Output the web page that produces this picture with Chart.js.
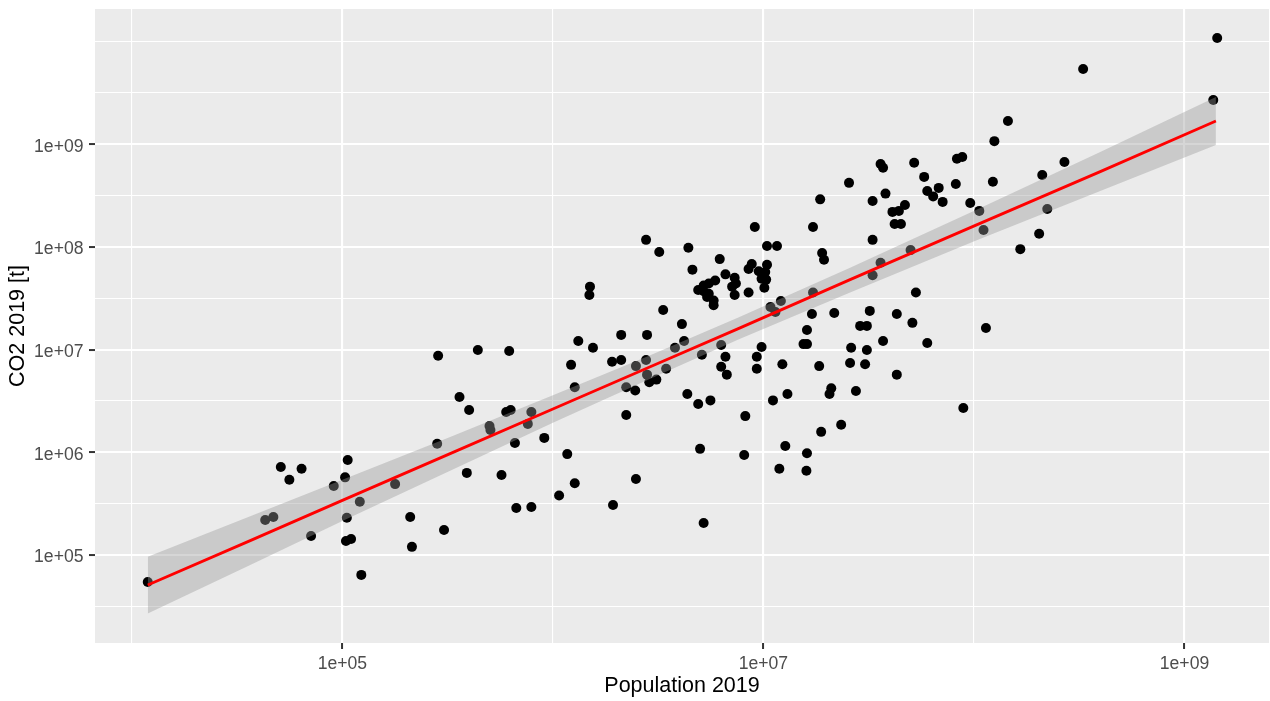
<!DOCTYPE html>
<html><head><meta charset="utf-8">
<script src="https://cdn.jsdelivr.net/npm/chart.js@4.4.1/dist/chart.umd.min.js"></script>
<style>html,body{margin:0;padding:0;background:#fff;}#wrap{position:relative;width:1270px;height:701px;}</style>
</head><body><div id="wrap"><canvas id="c"></canvas></div>
<script>
// Population 2019 (x) and CO2 2019 [t] (y), one entry per country
const population = [
1.19e4,5.1e4,6.4e4,5.6e4,1.06e5,1.03e5,9.1e4,1.78e5,4.3e4,4.7e4,
1.21e5,1.05e5,2.1e5,7.1e4,1.04e5,1.10e5,2.14e5,1.23e5,2.85e5,4.4e5,
6.2e5,1.32e6,1.55e6,1.22e6,1.91e6,2.11e6,1.27e6,3.6e5,4.0e5,6.0e5,
6.3e5,7.9e5,5.0e5,5.05e5,7.6e5,2.82e5,6.6e5,9.1e5,1.17e6,3.9e5,
5.7e5,1.27e6,1.07e6,6.7e5,7.9e5,1.93e6,3.04e5,9.1e6,2.77e6,3.2e6,
4.4e6,6.2e6,8.8e6,8.5e6,9.5e6,1.04e7,1.02e7,9.8e6,1.03e7,1.01e7,
4.6e6,6.6e6,7.3e6,7.4e6,7.1e6,7.3e6,5.9e6,5.5e6,5.2e6,4.9e6,
5.2e6,5.5e6,5.4e6,5.8e6,5.8e6,8.5e6,1.50e6,1.49e6,3.34e6,4.1e6,
2.8e6,3.8e6,4.2e6,6.3e6,5.1e6,6.6e6,9.3e6,9.8e6,9.3e6,6.3e6,
6.7e6,2.11e6,2.77e6,2.48e6,2.8e6,3.45e6,2.87e6,3.1e6,2.23e6,2.46e6,
4.35e6,4.9e6,5.6e6,2.23e6,8.2e6,1.11e7,1.30e7,5.0e6,8.1e6,1.27e7,
1.61e7,1.19e7,1.60e7,2.48e6,5.2e6,2.55e7,1.86e7,3.3e7,3.8e7,6.0e7,
6.4e7,6.8e7,4.1e7,4.4e7,4.7e7,4.2e7,4.5e7,1.72e7,3.3e7,1.04e7,
1.16e7,1.90e7,1.94e7,1.72e7,3.6e7,3.3e7,5.0e7,5.3e7,1.08e7,1.14e7,
1.21e7,1.70e7,2.17e7,3.2e7,4.3e7,5.1e7,2.88e7,3.1e7,1.61e7,3.7e7,
6.0e7,1.55e7,1.61e7,2.61e7,3.1e7,1.23e7,1.84e7,2.58e7,3.04e7,4.3e7,
2.10e7,2.06e7,2.75e7,2.34e7,1.88e7,8.9e7,3.6e7,3.7e7,5.2e7,8.3e7,
8.8e7,5.8e7,1.25e8,1.45e8,2.69e8,2.11e8,1.23e8,8.2e7,7.1e7,9.6e7,
1.06e8,2.23e8,1.11e8,2.04e8,1.66e8,1.14e8,3.3e8,1.37e9,1.43e9
];
const co2 = [
5.46e4,7.2e5,6.9e5,5.4e5,8.4e5,5.7e5,4.7e5,4.9e5,2.19e5,2.34e5,
3.3e5,2.3e5,2.34e5,1.53e5,1.37e5,1.43e5,1.20e5,6.4e4,8.7e6,9.9e6,
9.7e6,1.21e7,1.04e7,7.1e6,7.6e6,1.39e7,4.3e6,3.45e6,2.58e6,2.47e6,
2.58e6,2.47e6,1.80e6,1.65e6,1.89e6,1.21e6,1.23e6,1.38e6,9.6e5,6.3e5,
6.0e5,5.0e5,3.8e5,2.87e5,2.93e5,3.07e5,1.75e5,1.56e8,1.17e8,8.9e7,
9.8e7,7.6e7,6.8e7,6.1e7,5.8e7,6.7e7,5.7e7,4.9e7,4.8e7,4.0e7,
6.0e7,5.4e7,5.0e7,4.4e7,4.1e7,3.4e7,4.7e7,4.4e7,4.2e7,3.8e7,
3.7e7,3.5e7,3.25e7,3.0e7,2.7e7,3.6e7,4.1e7,3.4e7,2.43e7,1.77e7,
1.39e7,1.04e7,1.21e7,1.11e7,8.9e6,8.5e6,8.5e6,1.06e7,6.5e6,6.8e6,
5.7e6,7.9e6,7.9e6,6.9e6,5.7e6,6.5e6,4.8e6,5.1e6,4.3e6,4.0e6,
3.7e6,2.95e6,3.2e6,2.31e6,2.25e6,3.2e6,3.7e6,1.08e6,9.4e5,1.15e6,
9.8e5,6.9e5,6.6e5,5.5e5,2.05e5,4.2e8,2.9e8,2.8e8,3.3e8,3.5e8,
3.1e8,3.75e8,2.19e8,2.24e8,2.56e8,1.67e8,1.67e8,1.56e8,1.17e8,1.02e8,
1.02e8,8.7e7,7.5e7,3.6e7,7.0e7,5.3e7,9.3e7,3.6e7,2.6e7,2.32e7,
2.97e7,2.22e7,2.27e7,2.38e7,2.22e7,1.82e7,1.70e7,1.70e7,1.55e7,1.21e7,
1.16e7,1.13e7,1.13e7,1.04e7,9.9e6,7.2e6,6.9e6,7.4e6,7.2e6,5.7e6,
4.2e6,3.7e6,3.95e6,1.85e6,1.58e6,2.7e6,6.4e8,5.9e8,6.6e8,7.2e8,
7.5e8,4.8e8,1.07e9,1.68e9,6.7e8,5.0e8,4.3e8,4.1e8,2.74e8,2.67e8,
2.24e8,2.34e8,1.46e8,1.34e8,9.5e7,1.62e7,5.4e9,2.69e9,1.08e10
];
// fitted regression line with its confidence band, read at several populations
const fitPopulation = [1.19e4,3.65e4,1.0e5,3.25e5,1.0e6,2.9e6,7.6e6,2.58e7,1.01e8,3.98e8,1.41e9];
const fitCO2        = [5.1e4,1.38e5,3.4e5,9.7e5,2.64e6,6.8e6,1.60e7,4.8e7,1.61e8,5.4e8,1.68e9];
const fitUpper      = [9.6e4,2.38e5,5.4e5,1.41e6,3.6e6,8.8e6,2.05e7,6.25e7,2.26e8,8.4e8,2.88e9];
const fitLower      = [2.7e4,8.0e4,2.14e5,6.6e5,1.94e6,5.2e6,1.25e7,3.6e7,1.14e8,3.5e8,9.8e8];
// axes
const xMajorTicks = [1e5,1e7,1e9];
const xMinorTicks = [1e4,1e6,1e8];
const xTickLabels = ['1e+05','1e+07','1e+09'];
const yMajorTicks = [1e5,1e6,1e7,1e8,1e9];
const yMinorTicks = [31623,316228,3162278,31622777,316227766,3162277660,1e10];
const yTickLabels = ['1e+05','1e+06','1e+07','1e+08','1e+09'];
const xLimits = [6683,2.52e9];
const yLimits = [13900,2.07e10];
const xTitle = 'Population 2019';
const yTitle = 'CO2 2019 [t]';

const FONT = "'Liberation Sans', Arial, sans-serif";
function makeTicks(major, minor){
  return major.map(v=>({value:v,isMinor:false})).concat(minor.map(v=>({value:v,isMinor:true}))).sort((a,b)=>a.value-b.value);
}
function axis(major, minor, labels, limits, title, isY){
  return {
    type:'logarithmic', min:limits[0], max:limits[1], bounds:'data',
    position: isY ? 'left' : 'bottom',
    afterBuildTicks(scale){ scale.ticks = makeTicks(major, minor); },
    afterFit(scale){
      if (isY) scale.width = 95; else scale.height = 58;
      scale.paddingTop = 0; scale.paddingBottom = 0; scale.paddingLeft = 0; scale.paddingRight = 0;
    },
    border:{display:false},
    grid:{
      drawTicks:true, tickLength:6,
      color: c => '#FFFFFF',
      lineWidth: c => (c.tick && c.tick.isMinor) ? 1.1 : 2.1,
      tickColor: c => (c.tick && c.tick.isMinor) ? 'rgba(0,0,0,0)' : '#333333',
      tickWidth: 2
    },
    ticks:{
      autoSkip:false, maxRotation:0, minRotation:0,
      padding: isY ? 5.5 : 4.3,
      labelOffset: isY ? 2.5 : 0,
      color:'#4D4D4D',
      font:{family:FONT, size:17.6},
      callback:(v)=>{ const i = major.indexOf(v); return i>=0 ? labels[i] : ''; }
    },
    title:{
      display:true, text:title, color:'#000000',
      font:{family:FONT, size:21.5, lineHeight:1.2},
      padding: isY ? {top:5.1,bottom:0} : {top:0,bottom:1.6}
    }
  };
}
const bgPlugin = {id:'bg', beforeDraw(chart){
  const {ctx, chartArea:a} = chart;
  ctx.save();
  ctx.fillStyle='#FFFFFF'; ctx.fillRect(0,0,chart.width,chart.height);
  ctx.fillStyle='#EBEBEB'; ctx.fillRect(a.left,a.top,a.right-a.left,a.bottom-a.top);
  ctx.restore();
}};
new Chart(document.getElementById('c'), {
  type:'scatter',
  data:{datasets:[
    {type:'scatter', label:'countries', data: population.map((p,i)=>({x:p,y:co2[i]})),
     pointRadius:5, pointBackgroundColor:'#000000', pointBorderWidth:0, pointBorderColor:'rgba(0,0,0,0)', order:3},
    {type:'line', label:'upper', data: fitPopulation.map((p,i)=>({x:p,y:fitUpper[i]})),
     fill:'+1', backgroundColor:'rgba(153,153,153,0.4)', borderColor:'rgba(0,0,0,0)', borderWidth:0, pointRadius:0, tension:0, order:2},
    {type:'line', label:'lower', data: fitPopulation.map((p,i)=>({x:p,y:fitLower[i]})),
     fill:false, borderColor:'rgba(0,0,0,0)', borderWidth:0, pointRadius:0, tension:0, order:2},
    {type:'line', label:'fit', data: fitPopulation.map((p,i)=>({x:p,y:fitCO2[i]})),
     fill:false, borderColor:'#FF0000', borderWidth:2.8, pointRadius:0, tension:0, order:1}
  ]},
  options:{
    responsive:true, maintainAspectRatio:false, animation:false, devicePixelRatio:1, events:[],
    layout:{autoPadding:false, padding:{left:0,right:1,top:9,bottom:0}},
    plugins:{legend:{display:false}, tooltip:{enabled:false}},
    scales:{
      x: axis(xMajorTicks, xMinorTicks, xTickLabels, xLimits, xTitle, false),
      y: axis(yMajorTicks, yMinorTicks, yTickLabels, yLimits, yTitle, true)
    }
  },
  plugins:[bgPlugin]
});
</script></body></html>
